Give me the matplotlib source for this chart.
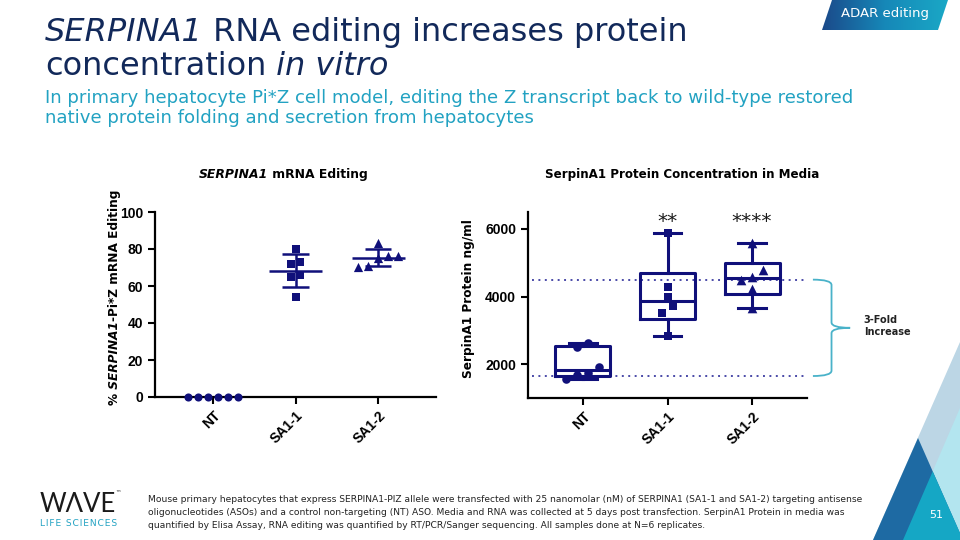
import numpy as np
import matplotlib
matplotlib.use('Agg')
import matplotlib.pyplot as plt
from matplotlib.patches import Polygon, PathPatch
from matplotlib.path import Path
from matplotlib.colors import LinearSegmentedColormap

# data
groups = ['NT', 'SA1-1', 'SA1-2']
edit_nt = [0, 0, 0, 0, 0, 0]
edit_sa11 = [80, 73, 72, 66, 65, 54]
edit_sa12 = [83, 76, 76, 75, 71, 70.5]
prot_nt = [2620, 2500, 1910, 1730, 1680, 1560]
prot_sa11 = [5870, 4290, 3990, 3720, 3500, 2830]
prot_sa12 = [5570, 4780, 4580, 4490, 4210, 3660]
stars = ['', '**', '****']
ref_lines = [4500, 1650]
edit_ticks = [0, 20, 40, 60, 80, 100]
prot_ticks = [2000, 4000, 6000]

navy = '#10107a'
title_col = '#12295a'
teal = '#22a2c2'
markers = ['o', 's', '^']
msize = [38, 36, 48]

plt.rcParams['font.family'] = ['DejaVu Sans']

fig = plt.figure(figsize=(9.6, 5.4), dpi=100)
renderer = fig.canvas.get_renderer()


def fx(x):
    return x / 960


def fy(y):
    return 1 - y / 540


def rich(x, y, runs, size, color='black', rotation=0, align='left'):
    # text made of runs with different styles, laid end to end on one baseline
    arts = []
    pos = 0.0
    for txt, style, weight in runs:
        t = fig.text(0, 0, txt, fontsize=size, fontstyle=style, fontweight=weight,
                     color=color, rotation=rotation, rotation_mode='anchor',
                     ha='left', va='baseline')
        bb = t.get_window_extent(renderer)
        arts.append((t, pos))
        pos += bb.width if rotation == 0 else bb.height
    shift = pos / 2 if align == 'center' else 0
    for t, p in arts:
        if rotation == 0:
            t.set_position((x + (p - shift) / 960, y))
        else:
            t.set_position((x, y + (p - shift) / 540))


def row_offsets(vals, gap, step):
    # spread points that sit at nearly the same height, like a column scatter
    vals = np.asarray(vals, float)
    order = np.argsort(vals, kind='stable')
    offs = np.zeros(len(vals))
    rows = [[order[0]]]
    for i in order[1:]:
        if vals[i] - vals[rows[-1][-1]] < gap:
            rows[-1].append(i)
        else:
            rows.append([i])
    for r in rows:
        for k, i in enumerate(r):
            offs[i] = (k - (len(r) - 1) / 2) * step
    return offs


def style_axes(ax):
    for s in ['top', 'right']:
        ax.spines[s].set_visible(False)
    for s in ['left', 'bottom']:
        ax.spines[s].set_linewidth(1.6)
        ax.spines[s].set_color('black')
    ax.tick_params(direction='out', length=5, width=1.5)
    ax.set_xticks(range(len(groups)))
    ax.set_xticklabels(groups, rotation=45, ha='right', rotation_mode='anchor',
                       fontsize=10, fontweight='bold', family='Liberation Sans')
    for lab in ax.get_yticklabels():
        lab.set_fontsize(10)
        lab.set_fontweight('bold')
        lab.set_family('Liberation Sans')


# ---- left panel: mRNA editing ----
ax1 = fig.add_axes([fx(155), fy(397), fx(436 - 155), (397 - 212) / 540])
edit_data = [edit_nt, edit_sa11, edit_sa12]
for i, vals in enumerate(edit_data):
    v = np.array(vals, float)
    x = i + row_offsets(v, 4.5, 0.12)
    ax1.scatter(x, v, marker=markers[i], s=msize[i] - 4, color=navy,
                clip_on=False, zorder=4, linewidths=0)
    m, sd = v.mean(), v.std(ddof=1)
    if sd > 0:
        ax1.hlines(m, i - 0.32, i + 0.32, color=navy, lw=1.8, zorder=3)
        ax1.hlines([m - sd, m + sd], i - 0.16, i + 0.16, color=navy, lw=1.8, zorder=3)
        ax1.vlines(i, m - sd, m + sd, color=navy, lw=1.8, zorder=3)
ax1.set_xlim(-0.7, 2.7)
ax1.set_ylim(0, 100)
ax1.set_yticks(edit_ticks)
style_axes(ax1)

rich(fx(283), fy(178), [('SERPINA1', 'italic', 'bold'), (' mRNA Editing', 'normal', 'bold')],
     8.9, align='center')
rich(fx(118), fy(297), [('%', 'normal', 'bold'), (' SERPINA1', 'italic', 'bold'),
                        ('-Pi*Z mRNA Editing', 'normal', 'bold')],
     8.7, rotation=90, align='center')

# ---- right panel: protein in media ----
ax2 = fig.add_axes([fx(528), fy(398), fx(807 - 528), (398 - 212) / 540])
prot_data = [prot_nt, prot_sa11, prot_sa12]
stats = []
for vals in prot_data:
    v = np.array(vals, float)
    q1, med, q3 = np.percentile(v, [25, 50, 75], method='weibull')
    stats.append(dict(med=med, q1=q1, q3=q3, whislo=v.min(), whishi=v.max(), fliers=[]))
lp = dict(color=navy, lw=2.2)
ax2.bxp(stats, positions=range(3), widths=0.65, capwidths=0.33, showfliers=False,
        boxprops=lp, whiskerprops=lp, capprops=lp, medianprops=lp)
for i, vals in enumerate(prot_data):
    v = np.array(vals, float)
    x = i + row_offsets(v, 270, 0.13)
    ax2.scatter(x, v, marker=markers[i], s=msize[i], color=navy, zorder=4,
                linewidths=0, clip_on=False)
    if stars[i]:
        ax2.text(i, 6060, stars[i], ha='center', va='baseline', fontsize=14.5, color='#1a1a1a')

ax2.hlines(ref_lines, -0.6, 2.65, colors='#4a4aa8', linestyles=(0, (1, 2.3)), lw=1.4, zorder=1)
ax2.set_xlim(-0.65, 2.65)
ax2.set_ylim(1000, 6500)
ax2.set_yticks(prot_ticks)
style_axes(ax2)

# curly brace marking the fold change
top, bot = ref_lines
mid = (top + bot) / 2
a, b, c, r = 2.72, 2.94, 3.16, 160
verts = [(a, top), (b, top), (b, top - r), (b, mid + r), (b, mid), (c, mid),
         (b, mid), (b, mid - r), (b, bot + r), (b, bot), (a, bot)]
codes = [Path.MOVETO, Path.CURVE3, Path.CURVE3, Path.LINETO, Path.CURVE3, Path.CURVE3,
         Path.CURVE3, Path.CURVE3, Path.LINETO, Path.CURVE3, Path.CURVE3]
ax2.add_patch(PathPatch(Path(verts, codes), fill=False, edgecolor='#49b2c9', lw=1.3,
                        clip_on=False))
ax2.text(3.32, 3130, '3-Fold\nIncrease', ha='left', va='center', fontsize=7,
         fontweight='bold', color='#222222', linespacing=1.25)

rich(fx(682), fy(178), [('SerpinA1 Protein Concentration in Media', 'normal', 'bold')],
     8.6, align='center')
rich(fx(472), fy(299), [('SerpinA1 Protein ng/ml', 'normal', 'bold')], 8.7,
     rotation=90, align='center')

# ---- header ----
rich(fx(45), fy(41), [('SERPINA1', 'italic', 'normal'),
                      (' RNA editing increases protein', 'normal', 'normal')],
     23, color=title_col)
rich(fx(45), fy(75), [('concentration', 'normal', 'normal'), (' in vitro', 'italic', 'normal')],
     23, color=title_col)
fig.text(fx(45), fy(103), 'In primary hepatocyte Pi*Z cell model, editing the Z transcript '
         'back to wild-type restored', fontsize=13.1, color=teal, va='baseline')
fig.text(fx(45), fy(123), 'native protein folding and secretion from hepatocytes',
         fontsize=13.1, color=teal, va='baseline')

# ADAR editing tag
bax = fig.add_axes([fx(822), fy(30), fx(948 - 822), 30 / 540])
bax.set_axis_off()
grad = np.linspace(0, 1, 200).reshape(1, -1)
cmap = LinearSegmentedColormap.from_list('tag', ['#1b4a8a', '#1688b8', '#1aa8c6'])
im = bax.imshow(grad, cmap=cmap, extent=(0, 1, 0, 1), aspect='auto')
clip = Polygon([(0, 0), (10 / 126, 1), (1, 1), (116 / 126, 0)], closed=True,
               transform=bax.transAxes, facecolor='none', edgecolor='none')
bax.add_patch(clip)
im.set_clip_path(clip)
bax.set_xlim(0, 1)
bax.set_ylim(0, 1)
fig.text(fx(885), fy(14), 'ADAR editing', ha='center', va='center', fontsize=9.5,
         color='white')

# ---- footer ----
fig.text(fx(40), fy(512), 'W\u039bVE', fontsize=18.5, family=['Lato', 'DejaVu Sans'],
         color='#1a1a1a', va='baseline')
fig.text(fx(115), fy(494), '\u2122', fontsize=4, color='#1a1a1a', va='center')
fig.text(fx(40), fy(524), '\u200a'.join('LIFE SCIENCES'), fontsize=6.6, color=teal,
         va='center')

notes = ['Mouse primary hepatocytes that express SERPINA1-PIZ allele were transfected with 25 '
         'nanomolar (nM) of SERPINA1 (SA1-1 and SA1-2) targeting antisense',
         'oligonucleotides (ASOs) and a control non-targeting (NT) ASO. Media and RNA was '
         'collected at 5 days post transfection. SerpinA1 Protein in media was',
         'quantified by Elisa Assay, RNA editing was quantified by RT/PCR/Sanger sequencing. '
         'All samples done at N=6 replicates.']
for k, line in enumerate(notes):
    fig.text(fx(148), fy(500 + 12.5 * k), line, fontsize=6.6, color='#222222', va='center')

# corner triangles
tri = [
    ([(873, 540), (960, 540), (960, 342)], '#bcd6e5'),
    ([(903, 540), (960, 540), (960, 408)], '#b3e5ef'),
    ([(873, 540), (918, 438), (963, 540)], '#1e6aa3'),
    ([(903, 540), (932.7, 471.4), (960, 533), (960, 540)], '#15a7c5'),
]
for pts, col in tri:
    fig.add_artist(Polygon([(fx(x), fy(y)) for x, y in pts], closed=True,
                           transform=fig.transFigure, facecolor=col, edgecolor='none'))
fig.text(fx(936), fy(515), '51', ha='center', va='center', fontsize=8, color='white')

fig.savefig('out.png', dpi=100)
